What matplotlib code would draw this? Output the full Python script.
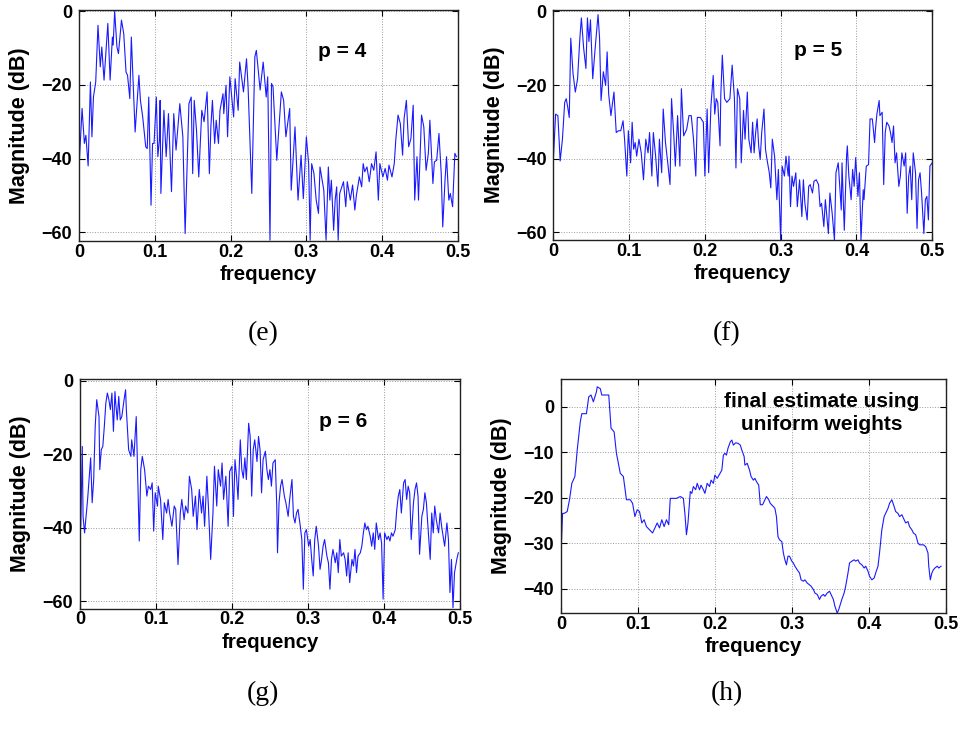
import matplotlib
matplotlib.use("Agg")
import matplotlib.pyplot as plt

plt.rcParams['font.family'] = ['Liberation Sans', 'DejaVu Sans']

# (frequency, magnitude dB)
spec_e = [
    (0.000, -42.3), (0.004, -26.4), (0.007, -35.9), (0.009, -33.7), (0.012, -42.0), (0.015, -19.2),
    (0.017, -34.1), (0.019, -23.3), (0.022, -19.2), (0.025, -3.8), (0.028, -15.1), (0.030, -9.7),
    (0.033, -18.7), (0.038, -3.3), (0.041, -18.7), (0.044, -7.0), (0.045, -9.2), (0.047, 0.0),
    (0.050, -9.7), (0.052, -11.5), (0.056, -2.4), (0.059, -6.1), (0.062, -16.5), (0.064, -17.4),
    (0.067, -23.7), (0.069, -7.0), (0.074, -32.8), (0.079, -17.4), (0.081, -24.2), (0.084, -28.7),
    (0.088, -36.8), (0.090, -37.3), (0.092, -23.3), (0.095, -52.7), (0.097, -35.9), (0.099, -35.9),
    (0.102, -23.3), (0.104, -39.5), (0.106, -35.0), (0.107, -24.2), (0.108, -49.5), (0.112, -26.9),
    (0.115, -39.5), (0.118, -27.8), (0.122, -49.0), (0.125, -27.8), (0.128, -37.7), (0.133, -25.1),
    (0.137, -34.1), (0.140, -60.4), (0.145, -25.1), (0.148, -23.3), (0.150, -44.1), (0.152, -24.2),
    (0.155, -32.3), (0.158, -45.0), (0.162, -26.9), (0.165, -30.0), (0.169, -21.9), (0.172, -44.1),
    (0.174, -31.4), (0.176, -24.2), (0.179, -35.9), (0.181, -29.6), (0.184, -35.9), (0.186, -26.9),
    (0.190, -22.4), (0.191, -27.8), (0.194, -20.1), (0.196, -34.1),
    (0.199, -17.8), (0.204, -28.7), (0.206, -18.3), (0.210, -26.9), (0.212, -13.8), (0.217, -21.9),
    (0.221, -12.9), (0.223, -20.1), (0.228, -49.5), (0.232, -12.4), (0.234, -10.6), (0.239, -21.4),
    (0.243, -13.8), (0.247, -23.3), (0.249, -17.8), (0.252, -62.2), (0.254, -19.6), (0.256, -20.5),
    (0.261, -40.5), (0.263, -34.1), (0.267, -21.9), (0.270, -24.2), (0.273, -34.1), (0.278, -26.4),
    (0.280, -48.6), (0.283, -38.6), (0.285, -31.4), (0.289, -51.3), (0.293, -39.1), (0.296, -50.9),
    (0.300, -34.1), (0.303, -41.4), (0.305, -62.2), (0.307, -41.4), (0.310, -44.1), (0.313, -51.3),
    (0.316, -54.9), (0.318, -42.3), (0.323, -48.6), (0.326, -62.2), (0.329, -42.3), (0.331, -51.3),
    (0.333, -45.9), (0.336, -59.5), (0.338, -51.3), (0.340, -47.7), (0.342, -62.2), (0.344, -49.5),
    (0.349, -46.3), (0.352, -53.1), (0.354, -46.3), (0.358, -51.3), (0.361, -47.2), (0.364, -54.0),
    (0.366, -50.0), (0.370, -45.0), (0.373, -47.7), (0.375, -41.4), (0.377, -43.6), (0.380, -42.3),
    (0.383, -46.3), (0.386, -41.4), (0.389, -43.2), (0.392, -38.2), (0.395, -51.3), (0.397, -41.4),
    (0.401, -45.0), (0.404, -42.7), (0.407, -45.9), (0.409, -41.8), (0.413, -45.0), (0.416, -41.4),
    (0.418, -35.0), (0.421, -28.2), (0.424, -30.5), (0.427, -39.1), (0.429, -29.1), (0.432, -24.2),
    (0.435, -36.8), (0.438, -34.6), (0.441, -25.5), (0.443, -51.3), (0.446, -39.5), (0.448, -51.3),
    (0.450, -39.5), (0.452, -28.2), (0.455, -31.4), (0.458, -43.2), (0.461, -38.6), (0.463, -29.6),
    (0.467, -46.8), (0.469, -40.9), (0.472, -40.5), (0.475, -33.2), (0.478, -44.1), (0.480, -58.6),
    (0.483, -45.9), (0.485, -39.5), (0.488, -51.3), (0.490, -49.5), (0.493, -53.1), (0.496, -38.6),
    (0.498, -39.5),
]

spec_f = [
    (0.000, -40.2), (0.003, -27.9), (0.006, -28.3), (0.009, -40.6), (0.012, -34.7), (0.015, -24.7),
    (0.017, -23.7), (0.019, -26.0), (0.021, -28.8), (0.023, -7.3), (0.026, -16.9), (0.029, -21.9),
    (0.032, -18.3), (0.035, -7.3), (0.037, -1.8), (0.040, -10.0), (0.043, -15.5), (0.045, -1.8),
    (0.047, -8.2), (0.049, -2.3), (0.052, -18.3), (0.055, -10.5), (0.059, -0.9), (0.061, -7.3),
    (0.063, -24.2), (0.066, -16.4), (0.069, -20.1), (0.071, -11.0), (0.073, -22.4), (0.076, -28.3),
    (0.080, -21.9), (0.083, -32.9), (0.086, -32.4), (0.089, -32.4), (0.092, -29.7), (0.094, -34.7),
    (0.097, -44.7), (0.099, -32.4), (0.102, -41.1), (0.104, -30.1), (0.106, -37.4), (0.108, -35.6),
    (0.110, -39.3), (0.113, -34.7), (0.116, -38.4), (0.119, -45.7), (0.122, -34.7), (0.125, -38.4),
    (0.127, -32.9), (0.130, -44.7), (0.132, -32.9), (0.135, -39.3), (0.138, -47.5), (0.140, -34.7),
    (0.143, -43.8), (0.145, -26.5), (0.148, -35.6), (0.151, -41.1), (0.154, -47.0), (0.156, -23.7),
    (0.159, -33.8), (0.161, -42.0), (0.164, -28.3), (0.167, -42.0), (0.169, -21.0), (0.172, -33.8),
    (0.176, -32.0), (0.179, -28.3), (0.182, -28.3), (0.185, -34.7), (0.188, -44.7), (0.190, -28.8),
    (0.194, -28.8), (0.198, -30.1), (0.200, -44.7), (0.203, -26.5), (0.205, -43.8), (0.208, -25.6),
    (0.211, -17.4), (0.213, -27.9), (0.215, -23.7), (0.217, -24.7), (0.220, -36.5), (0.221, -22.8),
    (0.223, -11.9), (0.226, -23.7), (0.229, -24.7), (0.233, -23.7), (0.236, -14.6), (0.239, -23.7),
    (0.241, -42.5), (0.243, -21.0), (0.246, -23.7), (0.248, -41.1), (0.251, -26.9), (0.253, -34.7),
    (0.256, -21.9), (0.258, -34.7), (0.261, -38.4), (0.263, -30.1), (0.265, -38.4), (0.267, -32.9),
    (0.269, -29.2), (0.271, -36.5), (0.273, -40.2), (0.275, -32.9), (0.278, -26.5), (0.280, -37.4),
    (0.282, -40.2), (0.285, -43.8), (0.287, -47.9), (0.289, -34.7), (0.292, -39.3), (0.295, -51.1),
    (0.297, -42.9), (0.300, -62.1), (0.302, -42.0), (0.305, -44.7), (0.307, -39.3), (0.310, -44.7),
    (0.311, -39.3), (0.313, -53.0), (0.315, -44.7), (0.317, -47.5), (0.320, -43.8), (0.322, -53.0),
    (0.325, -45.7), (0.328, -55.7), (0.330, -45.7), (0.332, -52.1), (0.335, -56.6), (0.337, -47.5),
    (0.339, -47.0), (0.342, -49.3), (0.344, -46.1), (0.347, -45.7), (0.350, -47.0), (0.352, -53.0),
    (0.354, -52.1), (0.357, -58.4), (0.359, -51.1), (0.361, -55.7), (0.363, -60.3), (0.365, -49.3),
    (0.368, -54.8), (0.371, -62.1), (0.373, -43.8), (0.376, -41.1), (0.378, -47.5), (0.380, -53.9),
    (0.381, -41.1), (0.384, -59.4), (0.387, -39.3), (0.388, -36.5), (0.390, -44.7), (0.393, -51.1),
    (0.395, -42.9), (0.397, -47.5), (0.399, -39.7), (0.402, -50.2), (0.404, -43.8), (0.406, -62.1),
    (0.409, -48.4), (0.410, -51.1), (0.413, -42.0), (0.416, -41.6), (0.418, -29.2), (0.421, -29.2),
    (0.424, -35.6), (0.425, -32.4), (0.427, -27.9), (0.430, -24.2), (0.431, -28.3), (0.434, -27.4),
    (0.436, -47.0), (0.438, -32.9), (0.440, -30.1), (0.443, -31.1), (0.445, -32.9), (0.447, -35.6),
    (0.449, -31.1), (0.451, -41.1), (0.453, -38.4), (0.456, -47.5), (0.458, -44.7), (0.460, -38.4),
    (0.463, -42.0), (0.465, -38.4), (0.467, -54.8), (0.469, -44.7), (0.471, -42.0), (0.473, -51.1),
    (0.475, -38.4), (0.478, -43.8), (0.480, -58.9), (0.482, -45.7), (0.484, -43.8), (0.486, -49.3),
    (0.489, -60.3), (0.491, -51.1), (0.493, -50.2), (0.495, -56.6), (0.497, -42.0), (0.500, -41.1),
]

spec_g = [
    (0.001, -39.6), (0.003, -17.9), (0.004, -36.9), (0.006, -41.4), (0.008, -36.9), (0.010, -32.3),
    (0.012, -26.5), (0.014, -21.0), (0.016, -33.2), (0.018, -26.9), (0.020, -12.5), (0.022, -5.2),
    (0.025, -9.8), (0.026, -24.2), (0.028, -18.8), (0.030, -17.9), (0.032, -12.5), (0.034, -6.1),
    (0.036, -3.4), (0.038, -5.2), (0.040, -7.9), (0.042, -3.4), (0.044, -13.8), (0.046, -3.0),
    (0.047, -6.1), (0.049, -10.7), (0.051, -4.3), (0.053, -10.7), (0.055, -9.8), (0.058, -5.2),
    (0.060, -2.5), (0.061, -7.9), (0.064, -18.8), (0.067, -20.6), (0.068, -16.1), (0.071, -20.6),
    (0.074, -9.8), (0.075, -17.9), (0.078, -43.6), (0.080, -24.2), (0.082, -20.6), (0.085, -24.2),
    (0.088, -31.4), (0.090, -28.7), (0.093, -29.6), (0.095, -27.8), (0.097, -40.9), (0.099, -30.5),
    (0.102, -34.1), (0.103, -28.7), (0.106, -32.3), (0.109, -43.2), (0.111, -33.2), (0.114, -36.0),
    (0.116, -32.3), (0.118, -36.0), (0.121, -39.6), (0.124, -34.1), (0.126, -35.0), (0.129, -50.0),
    (0.132, -36.0), (0.134, -32.3), (0.137, -37.8), (0.139, -34.1), (0.142, -36.0), (0.144, -26.0),
    (0.147, -29.6), (0.149, -36.9), (0.152, -31.4), (0.154, -40.5), (0.157, -29.6), (0.160, -36.0),
    (0.162, -31.4), (0.164, -39.6), (0.167, -26.0), (0.169, -34.1), (0.172, -48.6), (0.175, -36.0),
    (0.177, -23.3), (0.180, -34.1), (0.182, -24.2), (0.185, -28.7), (0.187, -22.4), (0.189, -32.3),
    (0.192, -26.0), (0.195, -39.6),
    (0.197, -24.7), (0.200, -23.3), (0.202, -36.9), (0.204, -21.5), (0.206, -26.0), (0.208, -32.3),
    (0.211, -16.1), (0.213, -24.2), (0.215, -26.5), (0.217, -21.0), (0.219, -26.9), (0.222, -11.6),
    (0.224, -15.2), (0.226, -31.4), (0.228, -18.8), (0.230, -16.1), (0.233, -22.0), (0.235, -15.2),
    (0.237, -18.8), (0.239, -30.5), (0.241, -21.5), (0.244, -19.2), (0.246, -24.2), (0.248, -26.9),
    (0.250, -24.2), (0.252, -28.7), (0.254, -22.4), (0.257, -21.5), (0.259, -34.1), (0.260, -46.8),
    (0.262, -33.2), (0.264, -28.7), (0.266, -26.9), (0.269, -31.4), (0.271, -33.2), (0.274, -36.9),
    (0.276, -32.3), (0.279, -26.9), (0.281, -36.9), (0.283, -38.7), (0.285, -36.0), (0.287, -35.0),
    (0.290, -39.6), (0.292, -43.2), (0.294, -56.7), (0.296, -41.4), (0.298, -40.5), (0.301, -45.0),
    (0.303, -43.2), (0.305, -48.6), (0.307, -53.1), (0.309, -43.2), (0.311, -39.6), (0.314, -45.0),
    (0.316, -51.3), (0.318, -48.6), (0.320, -45.0), (0.322, -43.2), (0.325, -47.7), (0.327, -49.5),
    (0.329, -56.7), (0.331, -48.6), (0.333, -45.9), (0.336, -49.5), (0.338, -46.8), (0.340, -52.2),
    (0.342, -43.2), (0.344, -47.7), (0.347, -46.8), (0.349, -48.6), (0.351, -53.1), (0.353, -46.8),
    (0.355, -54.9), (0.358, -48.6), (0.360, -50.4), (0.362, -45.9), (0.364, -52.2), (0.366, -47.7),
    (0.369, -46.8), (0.371, -45.0), (0.373, -41.4), (0.375, -38.7), (0.377, -40.5), (0.379, -39.6),
    (0.382, -42.3), (0.384, -45.0), (0.386, -41.4), (0.388, -45.9), (0.390, -38.7), (0.393, -43.2),
    (0.395, -41.4), (0.397, -44.1), (0.399, -59.4), (0.401, -41.4), (0.404, -43.2), (0.406, -42.3),
    (0.408, -43.6), (0.410, -41.4), (0.412, -42.3), (0.415, -40.5), (0.417, -35.0), (0.419, -31.4),
    (0.421, -29.6), (0.423, -36.0), (0.426, -27.8), (0.428, -26.9), (0.430, -32.3), (0.432, -28.7),
    (0.434, -30.5), (0.436, -43.2), (0.439, -33.2), (0.441, -29.6), (0.443, -27.8), (0.445, -31.4),
    (0.447, -47.2), (0.450, -36.9), (0.452, -35.0), (0.454, -30.5), (0.456, -33.2), (0.458, -39.6),
    (0.461, -48.6), (0.463, -36.0), (0.465, -41.4), (0.467, -34.1), (0.469, -37.8), (0.472, -41.4),
    (0.474, -36.0), (0.476, -39.6), (0.478, -42.3), (0.480, -45.0), (0.483, -38.7), (0.485, -43.2),
    (0.487, -57.6), (0.489, -48.6), (0.491, -61.7), (0.493, -52.2), (0.496, -48.6), (0.498, -46.8),
]

spec_h = [
    (0.000, -32.1), (0.002, -23.4), (0.004, -23.4), (0.008, -23.0), (0.011, -20.4), (0.014, -16.8),
    (0.018, -15.3), (0.021, -9.5), (0.025, -3.3), (0.027, -1.5), (0.033, -1.5), (0.036, 2.2),
    (0.039, 2.6), (0.042, 1.1), (0.046, 3.3), (0.047, 4.4), (0.051, 4.0), (0.053, 2.6),
    (0.056, 2.6), (0.062, 2.6), (0.065, -4.7), (0.069, -5.5), (0.072, -10.2), (0.077, -14.6),
    (0.081, -15.3), (0.085, -20.4), (0.090, -20.4), (0.093, -21.2), (0.096, -24.1), (0.099, -22.6),
    (0.102, -23.0), (0.105, -25.5), (0.108, -24.8), (0.111, -26.3), (0.115, -27.0), (0.119, -27.7),
    (0.122, -26.6), (0.125, -25.5), (0.128, -26.6), (0.131, -24.8), (0.134, -26.3), (0.137, -24.8),
    (0.140, -25.9), (0.142, -20.1), (0.146, -20.1), (0.150, -20.1), (0.155, -19.7), (0.159, -20.1),
    (0.161, -23.4), (0.163, -28.1), (0.165, -25.5), (0.168, -18.6), (0.170, -19.0), (0.172, -17.5),
    (0.175, -18.2), (0.177, -16.8), (0.180, -18.2), (0.182, -17.2), (0.185, -18.2), (0.187, -19.0),
    (0.190, -16.8), (0.193, -17.5), (0.195, -16.1), (0.198, -16.8), (0.200, -15.0), (0.203, -15.7),
    (0.209, -13.9), (0.211, -10.6), (0.213, -10.2), (0.215, -10.6), (0.217, -9.1), (0.220, -7.7),
    (0.222, -7.3), (0.224, -8.4), (0.227, -7.9), (0.230, -8.0), (0.233, -8.4), (0.235, -9.5),
    (0.238, -10.9), (0.239, -12.8), (0.242, -12.4), (0.245, -13.9), (0.247, -15.3), (0.250, -16.1),
    (0.252, -15.7), (0.254, -16.4), (0.257, -17.2), (0.259, -21.5), (0.262, -21.5), (0.265, -20.4),
    (0.267, -19.7), (0.270, -20.4), (0.272, -21.2), (0.276, -21.9), (0.278, -22.3), (0.280, -24.1),
    (0.282, -28.5), (0.284, -29.2), (0.287, -29.6), (0.289, -32.1), (0.291, -33.6), (0.293, -34.7),
    (0.295, -32.8), (0.297, -32.8), (0.300, -33.9), (0.302, -34.3), (0.304, -35.0), (0.307, -35.8),
    (0.310, -36.5), (0.312, -38.0), (0.315, -38.3), (0.317, -38.0), (0.320, -38.7), (0.323, -39.1),
    (0.325, -39.4), (0.328, -40.1), (0.330, -40.9), (0.333, -41.2), (0.336, -42.3), (0.338, -41.6),
    (0.341, -41.2), (0.343, -41.6), (0.346, -40.9), (0.349, -40.5), (0.351, -41.2), (0.354, -42.3),
    (0.356, -43.8), (0.359, -45.3), (0.361, -44.5), (0.363, -43.4), (0.365, -42.3), (0.368, -40.9),
    (0.370, -39.4), (0.373, -36.5), (0.375, -34.3), (0.378, -33.9), (0.381, -33.6), (0.383, -33.9),
    (0.386, -33.6), (0.388, -34.3), (0.391, -34.7), (0.394, -35.4), (0.396, -35.0), (0.399, -36.1),
    (0.401, -37.2), (0.404, -38.0), (0.407, -37.6), (0.409, -36.5), (0.412, -35.0), (0.414, -32.1),
    (0.417, -27.0), (0.420, -24.1), (0.422, -23.4), (0.425, -22.3), (0.427, -21.2), (0.430, -20.4),
    (0.433, -21.9), (0.435, -23.0), (0.438, -23.4), (0.440, -24.1), (0.443, -23.7), (0.446, -24.8),
    (0.448, -25.5), (0.451, -25.2), (0.453, -26.3), (0.456, -27.0), (0.458, -27.7), (0.461, -28.1),
    (0.464, -29.9), (0.466, -30.3), (0.469, -30.3), (0.471, -30.3), (0.474, -30.7), (0.477, -32.1),
    (0.478, -35.0), (0.480, -38.0), (0.482, -36.5), (0.484, -35.8), (0.486, -35.4), (0.489, -35.0),
    (0.491, -35.4), (0.494, -35.0),
]

freq_ticks = [0, 0.1, 0.2, 0.3, 0.4, 0.5]
freq_labels = ['0', '0.1', '0.2', '0.3', '0.4', '0.5']
db_ticks_p = [-60, -40, -20, 0]
db_ticks_h = [-40, -30, -20, -10, 0]

panels = [
    # spec, axes rect, ylim, yticks, note, note position, caption, caption position
    (spec_e, [0.082, 0.669, 0.393, 0.317], (-62.5, 0.3), db_ticks_p, 'p = 4', (0.347, -11), '(e)', (0.273, 0.543)),
    (spec_f, [0.574, 0.671, 0.393, 0.315], (-62.0, 0.3), db_ticks_p, 'p = 5', (0.350, -10.5), '(f)', (0.754, 0.543)),
    (spec_g, [0.083, 0.165, 0.394, 0.315], (-62.0, 0.4), db_ticks_p, 'p = 6', (0.346, -11), '(g)', (0.273, 0.049)),
    (spec_h, [0.582, 0.159, 0.399, 0.321], (-45.3, 6.1), db_ticks_h,
     'final estimate using\nuniform weights', (0.339, -1.4), '(h)', (0.754, 0.049)),
]

fig = plt.figure(figsize=(9.64, 7.29), dpi=100)
fig.patch.set_facecolor('white')

for spec, rect, ylim, yticks, note, note_xy, caption, cap_xy in panels:
    ax = fig.add_axes(rect)
    f = [p[0] for p in spec]
    m = [p[1] for p in spec]
    ax.plot(f, m, color='#1a1aff', lw=0.8)

    ax.set_xlim(0, 0.5)
    ax.set_ylim(*ylim)
    ax.set_xticks(freq_ticks)
    ax.set_xticklabels(freq_labels)
    ax.set_yticks(yticks)
    ax.grid(True, linestyle=':', color='#9a9a9a', linewidth=0.7)
    ax.tick_params(direction='in', top=True, right=True, length=4, width=0.8,
                   labelsize=13)
    ax.tick_params(axis='x', pad=2)
    ax.tick_params(axis='y', pad=5)
    for lab in ax.get_xticklabels() + ax.get_yticklabels():
        lab.set_fontweight('bold')
    for sp in ax.spines.values():
        sp.set_linewidth(1.0)
        sp.set_color('#222222')

    ax.set_xlabel('frequency', fontsize=14.7, fontweight='bold', labelpad=3)
    ax.set_ylabel('Magnitude (dB)', fontsize=15.5, fontweight='bold', labelpad=8)
    ax.text(note_xy[0], note_xy[1], note, ha='center', va='center',
            fontsize=15, fontweight='bold', linespacing=1.3)

    fig.text(cap_xy[0], cap_xy[1], caption, ha='center', va='center',
             fontsize=20, family='Liberation Serif')

fig.savefig('out.png', dpi=100, facecolor='white')
